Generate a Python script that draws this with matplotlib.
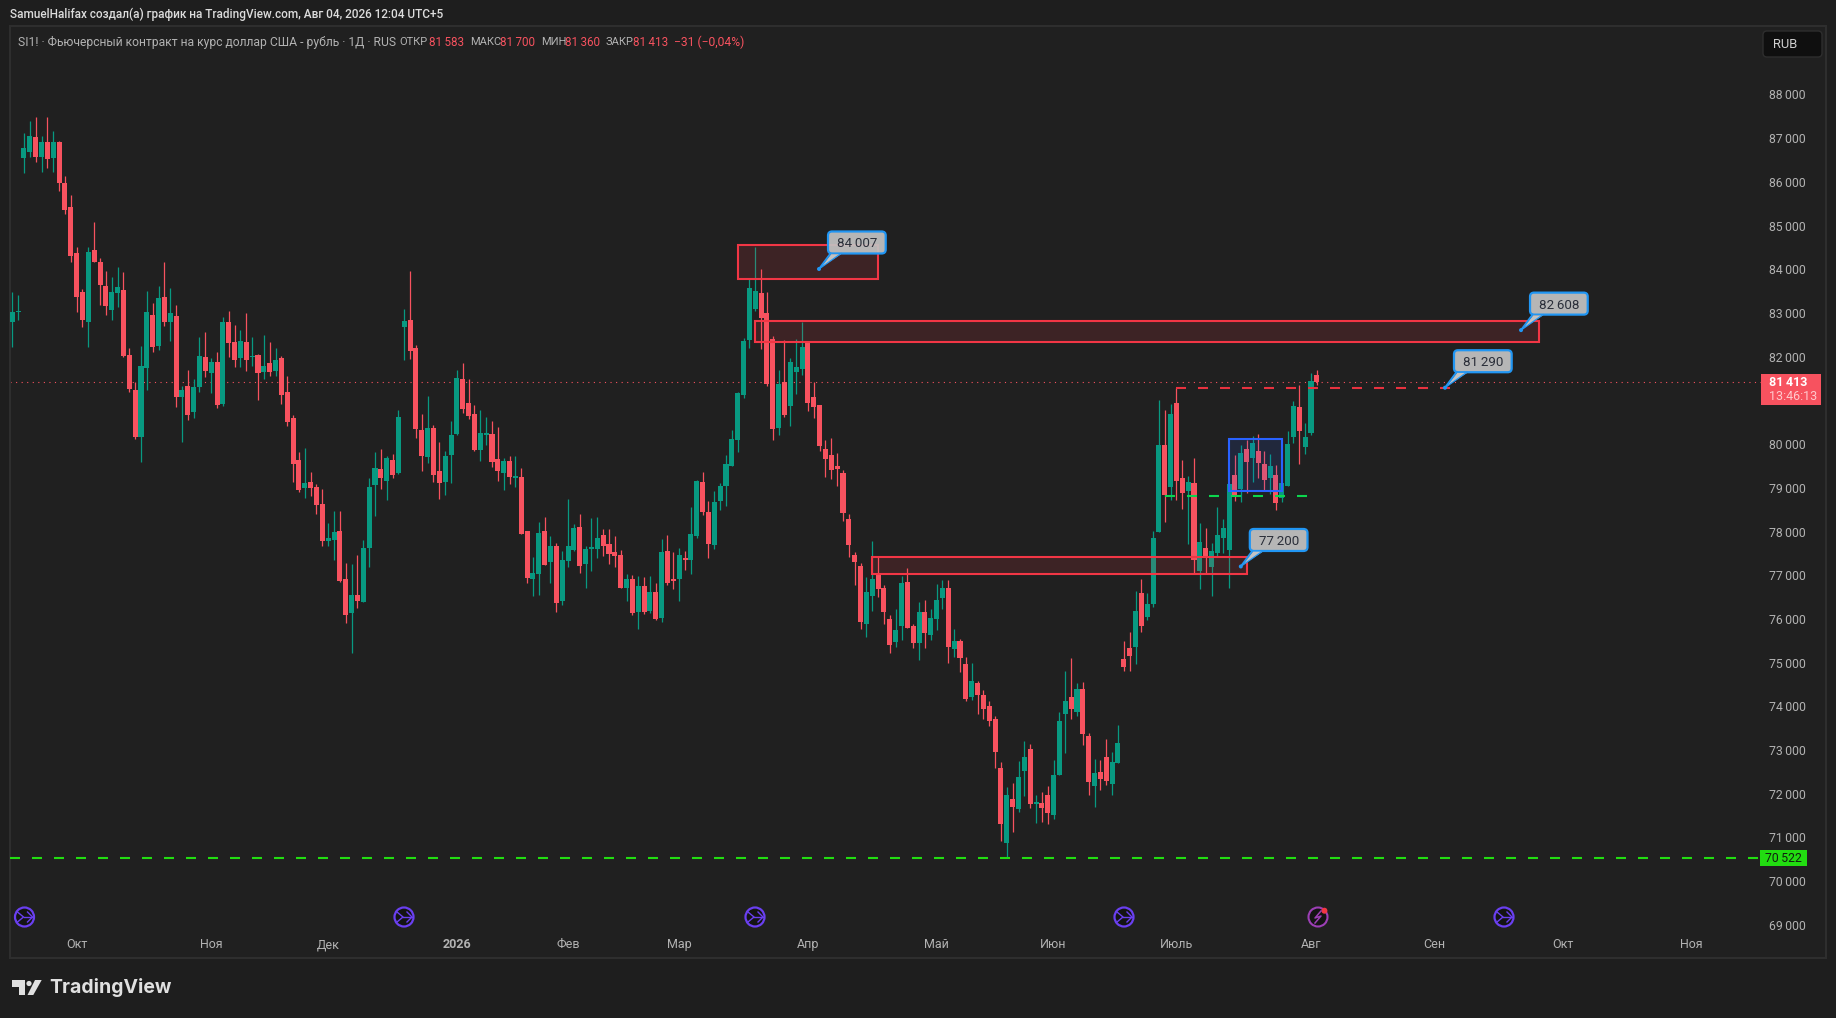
import matplotlib
matplotlib.use('Agg')
from matplotlib import pyplot as plt
from matplotlib.patches import Rectangle, Circle, FancyBboxPatch, Polygon

plt.rcParams['font.family'] = ['Roboto', 'DejaVu Sans']

# daily candles, oldest first
opens = [82785, 83014, 86537, 86692, 87019, 86562, 86921, 86537, 86921, 85965,
         85417, 84362, 83471, 82801, 84452, 84174, 83627, 83079, 83447, 83537,
         82049, 81248, 80169, 81730, 82965, 82253, 83357, 82801, 82940, 81084,
         81338, 80725, 81313, 82000, 81616, 81885, 80929, 82785, 82327, 81959,
         82327, 81984, 82049, 81656, 81845, 81681, 81959, 81182, 80586, 79646,
         79004, 79142, 79027, 78638, 77791, 77814, 78020, 76921, 76143, 76555,
         76395, 77631, 79073, 79439, 79165, 79645, 79348, 82690, 82850, 82209,
         80332, 79714, 80378, 79393, 79142, 79760, 80240, 81499, 80950, 80698,
         79874, 80217, 80240, 79668, 79348, 79622, 79233, 79256, 78020, 76921,
         77036, 78020, 77310, 77677, 76418, 77333, 77585, 78111, 77265, 77608,
         77608, 77929, 77723, 77540, 77471, 76716, 76921, 76166, 76761, 76189,
         76624, 76029, 77562, 76899, 76921, 77402, 77356, 77906, 79142, 78455,
         77700, 78707, 79050, 79508, 80103, 81133, 82392, 83102, 83468, 83010,
         82415, 80378, 81431, 80881, 81660, 81728, 82346, 81088, 80904, 79897,
         79760, 79508, 79348, 78295, 77471, 77219, 75892, 76533, 77051, 76716,
         76006, 75480, 75846, 76853, 75846, 75457, 76166, 75640, 76006, 76487,
         76716, 75319, 75503, 74976, 74221, 74541, 74266, 74015, 73717, 72596,
         70879, 71886, 71657, 72527, 73030, 71771, 71794, 71978, 71520, 72435,
         73832, 74221, 73877, 74404, 73328, 72183, 72504, 72847, 72229, 72710,
         75091, 75342, 75365, 76601, 76052, 76349, 77997, 79988, 79027, 80950,
         79233, 78935, 79118, 77104, 77631, 77196, 77516, 77860, 77585, 79302,
         78981, 79897, 79691, 79851, 79553, 79233, 79302, 78775, 79050, 80171,
         80858, 79942, 80263, 81583]
highs = [83488, 83422, 87109, 87404, 87477, 87060, 87494, 87175, 86946, 86145,
         85711, 84518, 83553, 84502, 85090, 84248, 83970, 83831, 84044, 83929,
         82188, 81428, 82253, 83512, 83218, 83627, 84174, 83561, 83193, 81338,
         81706, 81501, 82441, 82572, 81959, 82098, 82899, 83055, 82736, 82621,
         82989, 82441, 82073, 82507, 82343, 82188, 82024, 81567, 80676, 79809,
         79920, 79371, 79096, 78981, 78203, 78478, 78478, 77288, 77265, 77471,
         77814, 79233, 79828, 79897, 79737, 79783, 80790, 83102, 83971, 82278,
         80698, 81110, 80446, 80057, 79851, 80538, 81705, 81866, 81499, 80904,
         80790, 80629, 80538, 80401, 79691, 79737, 79737, 79462, 78020, 77425,
         78226, 78340, 77906, 77745, 77562, 78753, 78180, 78409, 77677, 78318,
         78341, 78066, 78066, 77906, 77585, 77036, 77013, 76990, 76967, 76990,
         76830, 77837, 77929, 77540, 77631, 77562, 78570, 79188, 79371, 78707,
         78936, 79119, 79760, 80332, 81202, 82438, 83811, 84521, 84017, 83491,
         82484, 81705, 82392, 81980, 82415, 82804, 82346, 81431, 80904, 80103,
         80149, 79806, 79417, 78409, 77540, 77288, 76967, 77792, 77418, 76784,
         76098, 76235, 76990, 77173, 75892, 76395, 76441, 76235, 76807, 76899,
         76899, 75777, 75548, 75136, 74999, 74587, 74381, 74129, 73786, 72733,
         72161, 72252, 72756, 73213, 73145, 71978, 72046, 72183, 72779, 73877,
         74816, 75113, 74541, 74564, 73397, 72801, 72779, 73259, 72962, 73580,
         75503, 75709, 76647, 76922, 76601, 78020, 81018, 80789, 80927, 81285,
         79645, 79279, 79691, 78203, 78088, 77745, 78569, 78295, 79096, 79759,
         79988, 80103, 80194, 80240, 79851, 79782, 79530, 79118, 80309, 80995,
         81362, 80492, 81636, 81700]
lows = [82229, 82850, 86194, 86578, 86464, 86218, 86308, 86218, 85801, 85254,
        84174, 83014, 82670, 82229, 84158, 83193, 82965, 82850, 83144, 81984,
        81199, 80128, 79596, 81248, 82098, 82163, 82711, 82368, 80839, 80054,
        80561, 80586, 81199, 81542, 81158, 80815, 80880, 82000, 81755, 81771,
        81681, 81796, 81019, 81501, 81567, 81567, 80929, 80422, 79139, 78893,
        78775, 78821, 78409, 77677, 77677, 77356, 76853, 75914, 75220, 76258,
        76395, 77196, 78363, 78981, 78730, 79233, 79325, 81934, 81957, 80149,
        79393, 79577, 79142, 78752, 78844, 79119, 80217, 80721, 80584, 79851,
        79622, 79989, 79485, 79164, 78958, 79096, 79027, 77951, 76830, 76532,
        76555, 77242, 76830, 76166, 76326, 77196, 77562, 77059, 76715, 77105,
        77402, 77448, 77265, 77196, 76716, 76418, 76097, 75777, 76120, 76143,
        75983, 75937, 76784, 76693, 76418, 77127, 77036, 77860, 78387, 77402,
        77608, 78501, 78592, 79508, 79828, 81065, 82209, 83056, 82186, 81339,
        80103, 80218, 80630, 80424, 81156, 81591, 80767, 80607, 79851, 79256,
        79211, 79050, 78249, 77425, 76784, 75777, 75594, 76189, 76510, 75892,
        75228, 75365, 75525, 75800, 75342, 75068, 75342, 75525, 75754, 76235,
        74999, 75136, 74793, 74129, 74152, 73832, 73717, 73557, 72596, 70925,
        70528, 71130, 71588, 71954, 71680, 71337, 71359, 71314, 71428, 72435,
        72939, 73717, 73786, 73122, 71978, 71703, 72092, 72206, 71978, 72710,
        74816, 74816, 74976, 75708, 75983, 76281, 77997, 78226, 78729, 78729,
        78523, 77722, 77051, 76692, 77051, 76532, 77425, 77516, 76715, 78706,
        78684, 78890, 79141, 79233, 78958, 78867, 78500, 78684, 79050, 80034,
        79553, 79782, 80217, 81360]
closes = [83030, 83055, 86766, 87060, 86578, 86921, 86513, 86905, 85965, 85368,
          84313, 83373, 82850, 84403, 84158, 83651, 83169, 83488, 83586, 82024,
          81272, 80169, 81796, 83030, 82212, 83332, 82801, 82989, 81084, 81248,
          80676, 81297, 82024, 81681, 81869, 80904, 82785, 82302, 81935, 82368,
          81935, 82024, 81616, 81796, 81656, 81935, 81133, 80512, 79555, 78959,
          79119, 79004, 78615, 77791, 77860, 77997, 76876, 76097, 76555, 76418,
          77631, 79027, 79462, 79233, 79691, 79302, 80629, 82827, 82140, 80355,
          79737, 80378, 79302, 79119, 79737, 80217, 81522, 80812, 80652, 79874,
          80263, 80240, 79599, 79393, 79622, 79256, 79279, 77951, 76944, 77059,
          77974, 77242, 77677, 76372, 77356, 77677, 78089, 77219, 77608, 77631,
          77860, 77677, 77494, 77448, 76716, 76921, 76143, 76761, 76166, 76624,
          76006, 77540, 76830, 76876, 77471, 77356, 77951, 79165, 78455, 77723,
          78684, 79050, 79554, 80126, 81179, 82369, 83582, 83514, 82896, 81385,
          80355, 81385, 80675, 81889, 81774, 82232, 80950, 80859, 79966, 79668,
          79417, 79439, 78432, 77700, 77311, 75937, 76624, 76922, 76693, 76166,
          75411, 75754, 76830, 75800, 75457, 76166, 75686, 76029, 76441, 76716,
          75365, 75503, 75113, 74175, 74587, 74266, 73946, 73671, 72962, 71314,
          71978, 71703, 72389, 72847, 71771, 71817, 71680, 71565, 72435, 73671,
          74129, 73946, 74404, 73374, 72275, 72481, 72344, 72298, 72733, 73168,
          74907, 75159, 76189, 75846, 76349, 77860, 79988, 78844, 80698, 79164,
          78890, 79141, 77356, 77768, 77402, 77562, 77928, 78088, 79096, 78844,
          79805, 79599, 80034, 79576, 79187, 79508, 78661, 79118, 80011, 80881,
          80309, 80171, 81453, 81413]

# 81 000 is hidden behind the last price tag on the original
price_ticks = [88000, 87000, 86000, 85000, 84000, 83000, 82000, 80000, 79000,
               78000, 77000, 76000, 75000, 74000, 73000, 72000, 71000, 70000, 69000]
# month labels sit on bar numbers, the axis runs on past the last candle
month_bars = [11, 34, 54, 76, 95, 114, 136, 158, 178, 199, 222, 243, 265, 287]
month_names = ['Окт', 'Ноя', 'Дек', '2026', 'Фев', 'Мар', 'Апр', 'Май', 'Июн', 'Июль',
               'Авг', 'Сен', 'Окт', 'Ноя']

# x0, x1, price top, price bottom
zone_a = (124.0, 148.0, 84561, 83769)
zone_b = (126.9, 261.0, 82822, 82327)
zone_c = (146.9, 211.0, 77420, 77024)
blue_box = (207.9, 217.1, 80114, 78924)

support_price = 70522
last_price = 81413
red_level = (199.0, 245.8, 81290)
green_level = (197.0, 221.3, 78816)
# bar number and price of the callout tips
callout_bars = [137.9, 257.9, 244.9, 210.0]
callout_prices = [84007, 82608, 81290, 77200]

BG = '#202020'
RED = '#F7525F'
GREEN = '#089981'
GRID_TXT = '#b2b2b2'
ZONE = '#F23645'
BLUE = '#2962FF'
CALLOUT = '#2196F3'

W, H = 1836, 1018
fig = plt.figure(figsize=(W / 100, H / 100), dpi=100, facecolor='#1e1e1e')

# chart frame in pixels: left 10, right 1826, top 26, bottom 958
ax = fig.add_axes([10 / W, 1 - 958 / H, 1816 / W, 932 / H], facecolor=BG)
ax.set_xlim(-0.39, 310.03)
ax.set_ylim(68241, 89567)
for side in ax.spines.values():
    side.set_color('#2e2e2e')
    side.set_linewidth(1.5)

# price and time scales, labels inside the frame like on the site
ax.yaxis.tick_right()
ax.set_yticks(price_ticks)
ax.set_yticklabels([f'{p:,}'.replace(',', '\u2009') for p in price_ticks], va='center_baseline')
ax.tick_params(axis='y', length=0, pad=-41, labelsize=8.8, labelcolor=GRID_TXT)
ax.set_xticks(month_bars)
ax.set_xticklabels(month_names, va='baseline')
ax.tick_params(axis='x', length=0, pad=-7, labelsize=9.0, labelcolor=GRID_TXT)
ax.get_xticklabels()[3].set_fontweight('bold')

# levels go under the candles
ax.axhline(last_price, color=RED, lw=0.8, ls=(0, (1, 4)), zorder=1, xmax=0.9692)
ax.plot([-0.39, 299.5], [support_price, support_price], color='#22DD11', lw=1.5,
        ls=(0, (4.8, 5.76)), zorder=5)

# candles
bars = list(range(len(opens)))
colors = [GREEN if c >= o else RED for o, c in zip(opens, closes)]
ax.vlines(bars, lows, highs, colors=colors, lw=0.9, zorder=2)
ax.bar(bars, [max(abs(c - o), 30) for o, c in zip(opens, closes)],
       bottom=[min(o, c) for o, c in zip(opens, closes)],
       width=0.86, color=colors, linewidth=0, zorder=3)

# drawings on top of the candles
for x0, x1, top, bottom in [zone_a, zone_b, zone_c]:
    ax.add_patch(Rectangle((x0, bottom), x1 - x0, top - bottom, facecolor=ZONE, alpha=0.14,
                           linewidth=0, zorder=4))
    ax.add_patch(Rectangle((x0, bottom), x1 - x0, top - bottom, fill=False, edgecolor=ZONE,
                           linewidth=1.5, zorder=4))
x0, x1, top, bottom = blue_box
ax.add_patch(Rectangle((x0, bottom), x1 - x0, top - bottom, facecolor=BLUE, alpha=0.13,
                       linewidth=0, zorder=4))
ax.add_patch(Rectangle((x0, bottom), x1 - x0, top - bottom, fill=False, edgecolor=BLUE,
                       linewidth=1.5, zorder=4))
ax.plot(red_level[:2], [red_level[2]] * 2, color='#E8323F', lw=1.5, ls=(0, (4.8, 5.76)), zorder=4)
ax.plot(green_level[:2], [green_level[2]] * 2, color='#0CD64E', lw=1.5, ls=(0, (4.8, 5.76)), zorder=4)

# everything around the chart is placed in plain pixels
px = fig.add_axes([0, 0, 1, 1], facecolor='none')
px.set_xlim(0, W)
px.set_ylim(H, 0)
px.axis('off')

# price callouts, the tip comes from the price scale and the box hangs off it
box_fill = (0.76, 0.76, 0.76, 0.93)
for bar, price in zip(callout_bars, callout_prices):
    tx, ty = ax.transData.transform((bar, price))
    ty = H - ty
    left, right = tx + 9, tx + 66.7
    upper, lower = ty - 37.5, ty - 15.5
    px.add_patch(FancyBboxPatch((left, upper), right - left, lower - upper,
                                boxstyle='round,pad=0,rounding_size=4',
                                fc=box_fill, ec=CALLOUT, lw=1.6))
    px.add_patch(Polygon([(left + 3, lower + 0.7), (left + 13, lower + 0.7), (tx + 1, ty - 1)],
                         fc='#c2c2c2', lw=0))
    px.plot([left + 2.5, tx], [lower, ty], color=CALLOUT, lw=1.4)
    px.plot([left + 13, tx], [lower, ty], color=CALLOUT, lw=0.9)
    px.add_patch(Circle((tx, ty), 2, fc=CALLOUT, lw=0))
    px.text((left + right) / 2, (upper + lower) / 2, f'{price:,}'.replace(',', '\u2009'),
            color='#2a2e39', fontsize=9.6, ha='center', va='center_baseline')

px.text(10, 14.7, 'SamuelHalifax создал(а) график на TradingView.com, Авг 04, 2026 12:04 UTC+5',
        color='#dcdcdc', fontsize=8.5, va='center', fontweight='medium')

legend_parts = [(18, 'SI1! · Фьючерсный контракт на курс доллар США - рубль · 1Д · RUS', GRID_TXT, 8.7),
                (399.5, 'ОТКР', GRID_TXT, 8.0), (429, '81\u2009583', RED, 8.4),
                (470, 'МАКС', GRID_TXT, 8.0), (500.5, '81\u2009700', RED, 8.4),
                (541, 'МИН', GRID_TXT, 8.0), (565, '81\u2009360', RED, 8.4),
                (606, 'ЗАКР', GRID_TXT, 8.0), (633, '81\u2009413', RED, 8.4),
                (674, '−31 (−0,04%)', RED, 8.7)]
for x, txt, col, size in legend_parts:
    px.text(x, 42, txt, color=col, fontsize=size, va='center')

# RUB button
px.add_patch(FancyBboxPatch((1763, 31), 59, 26, boxstyle='round,pad=0,rounding_size=4',
                            fc='#0f0f0f', ec='#2e2e2e', lw=1))
px.text(1773, 44, 'RUB', color='#d0d0d0', fontsize=9.3, va='center')

# last price tag
px.add_patch(Rectangle((1761, 374), 60, 31, fc=RED, lw=0))
px.text(1769, 382, '81\u2009413', color='white', fontsize=9, fontweight='bold', va='center')
px.text(1769, 397, '13:46:13', color='#ffc9cd', fontsize=9, va='center')

# support tag
px.add_patch(Rectangle((1760, 850), 47, 16, fc='#22DD11', lw=0))
px.text(1783.5, 858, '70\u2009522', color='#10200f', fontsize=8.8, ha='center', va='center')

# event icons along the bottom
for x in [24.5, 404, 755, 1124, 1504]:
    px.add_patch(Circle((x, 917), 9.5, fc='#141414', ec='#6A3FF0', lw=1.6))
    px.plot([x - 7, x - 1, x - 7], [912, 917, 922], color='#6A3FF0', lw=1)
    px.plot([x - 1, x + 8], [917, 917], color='#6A3FF0', lw=1)
    px.plot([x + 3, x + 8, x + 3], [912, 917, 922], color='#6A3FF0', lw=1)
px.add_patch(Circle((1318, 917), 9.5, fc='#141414', ec='#9C3FB5', lw=1.5))
px.plot([1321, 1315, 1321, 1315], [911, 918, 916, 923], color='#9C3FB5', lw=1.1)
px.add_patch(Circle((1324.4, 910.7), 3, fc='#F23645', lw=0))

# TradingView logo
logo = '#e0e0e0'
px.add_patch(Rectangle((12, 980), 13, 7, fc=logo, lw=0))
px.add_patch(Rectangle((19, 980), 6, 15, fc=logo, lw=0))
px.add_patch(Circle((29, 983.5), 2.6, fc=logo, lw=0))
px.add_patch(Polygon([(35, 980), (41.7, 980), (33.3, 995), (27.5, 995)], fc=logo, lw=0))
px.text(49, 987.5, 'TradingView', color=logo, fontsize=14, fontweight='bold', va='center',
        family=['Inter', 'DejaVu Sans'])

fig.savefig('out.png', dpi=100, facecolor=fig.get_facecolor())
